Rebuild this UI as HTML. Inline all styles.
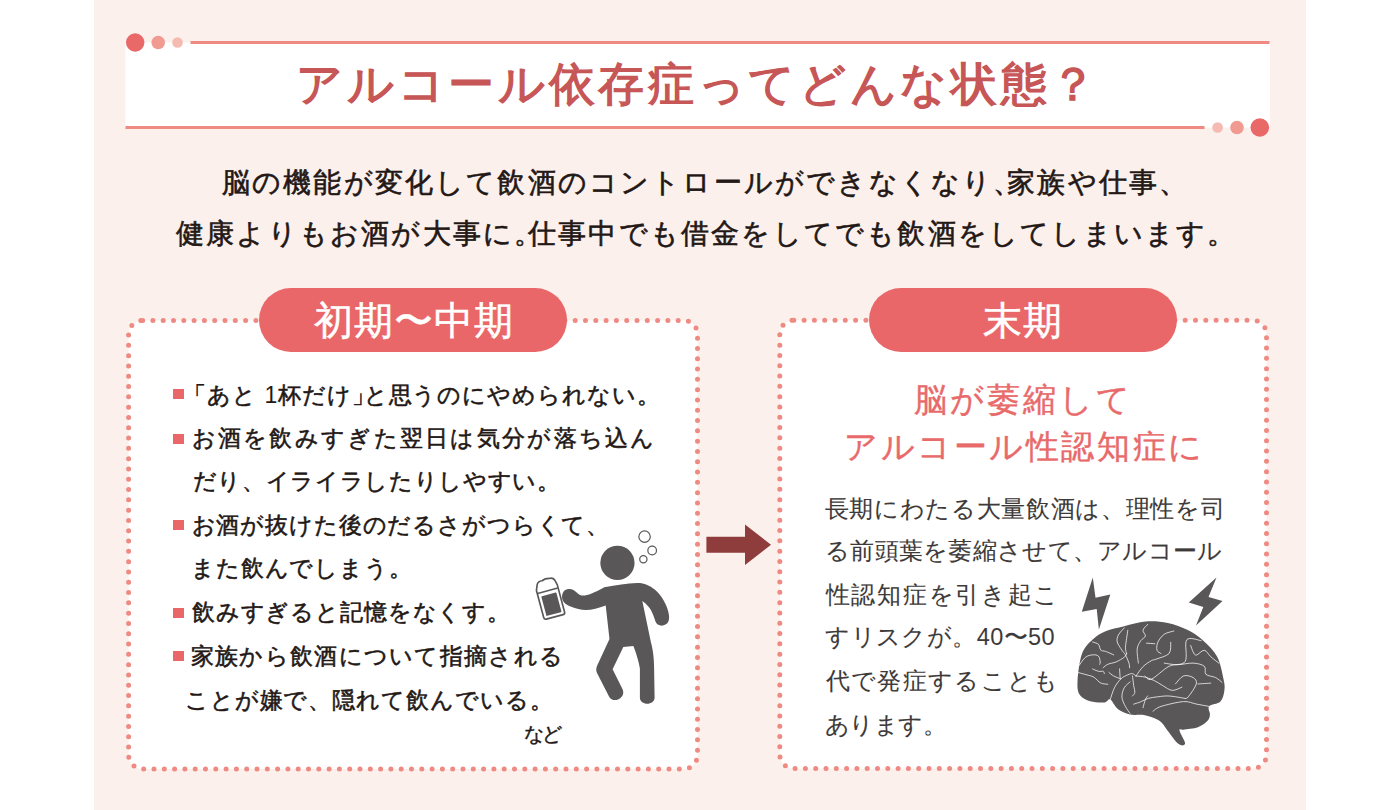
<!DOCTYPE html>
<html lang="ja">
<head>
<meta charset="utf-8">
<style>
html,body{margin:0;padding:0;}
body{width:1400px;height:810px;position:relative;overflow:hidden;background:#ffffff;font-family:"Liberation Sans",sans-serif;color:#231815;}
.abs{position:absolute;}
#panel{left:94px;top:0;width:1212px;height:810px;background:#fcf0ed;}
.t{position:absolute;white-space:nowrap;line-height:1;}
.t span{position:absolute;top:0;}
.t span.d{-webkit-text-stroke-width:0;}
.tt{color:#c75656;-webkit-text-stroke:1.4px #c75656;}
.sub{-webkit-text-stroke:0.6px #231815;}
.pill{position:absolute;height:64px;width:308px;border-radius:32px;background:#e96768;top:288px;}
.pt{color:#fff;-webkit-text-stroke:0.5px #fff;}
.li{-webkit-text-stroke:0.55px #231815;}
.nd{-webkit-text-stroke:0.4px #231815;}
.bul{position:absolute;width:11px;height:10px;background:#e96768;}
.rh{color:#e86a6a;-webkit-text-stroke:0.4px #e86a6a;}
.rt{color:#3e3a39;-webkit-text-stroke:0.1px #3e3a39;}
.h{letter-spacing:-0.5em;}
.hl{margin-left:-0.5em;}
</style>
</head>
<body>
<div id="panel" class="abs"></div>

<svg class="abs" style="left:0;top:0" width="1400" height="810" viewBox="0 0 1400 810">
  <rect x="125.5" y="42.5" width="1144.5" height="85" fill="#ffffff"/>
  <rect x="190.5" y="41" width="1079" height="3" fill="#ef8a82"/>
  <rect x="125.5" y="126" width="1079" height="3" fill="#ef8a82"/>
  <circle cx="135.2" cy="42.5" r="9.2" fill="#e96868"/>
  <circle cx="158.2" cy="42.5" r="6.8" fill="#f19a92"/>
  <circle cx="177.5" cy="42.5" r="5.3" fill="#f5bab2"/>
  <circle cx="1217.6" cy="127.5" r="5.3" fill="#f5bab2"/>
  <circle cx="1237" cy="127.5" r="6.8" fill="#f19a92"/>
  <circle cx="1259.8" cy="127.5" r="9.3" fill="#e96868"/>

  <rect x="128.6" y="320.4" width="568.9" height="448.6" rx="14" fill="#ffffff" stroke="#ef8a82" stroke-width="5.0" stroke-dasharray="0 10.3" stroke-linecap="round"/>
  <rect x="779.8" y="320.2" width="486.7" height="448.4" rx="14" fill="#ffffff" stroke="#ef8a82" stroke-width="5.0" stroke-dasharray="0 10.3" stroke-linecap="round"/>

  <path d="M706.4 536.7 H745 V524.4 L771 544.7 L745 565 V552.8 H706.4 Z" fill="#8e3c3c"/>

  <!-- drunk figure (coords in 5.787x zoom space of region 530,570) -->
  <g transform="translate(530 570) scale(0.17280)" fill="#595757">
    <circle cx="506" cy="-41" r="99"/>
    <path d="M430 100 C500 85 560 78 620 75 C690 72 760 130 790 210 C805 250 810 280 800 300 C785 330 735 330 725 295 C712 255 700 215 650 180 L700 420 C712 460 718 520 718 560 L721 738 C721 786 636 786 636 738 L636 570 C628 520 610 470 598 440 L540 445 L478 575 L535 688 C560 738 483 778 458 733 L390 600 C378 578 385 560 395 540 L460 400 L438 205 C380 225 330 240 280 225 C250 218 225 210 205 195 C175 175 180 120 215 112 C240 106 260 120 275 135 C300 160 340 150 430 100 Z"/>
    <circle cx="663" cy="-193" r="33" fill="none" stroke="#595757" stroke-width="7"/>
    <circle cx="707" cy="-113" r="25" fill="none" stroke="#595757" stroke-width="7"/>
    <circle cx="656" cy="-62" r="21" fill="none" stroke="#595757" stroke-width="7"/>
    <g transform="rotate(-15 115 165)">
      <path d="M52 262 L52 100 L66 66 C72 56 84 52 98 54 C112 48 128 48 142 52 C156 52 166 58 170 70 L177 100 L177 262 C177 270 172 275 165 275 L64 275 C57 275 52 270 52 262 Z" fill="#fff" stroke="#595757" stroke-width="9.5" stroke-linejoin="round"/>
      <line x1="54" y1="118" x2="175" y2="118" stroke="#595757" stroke-width="9"/>
      <rect x="70" y="140" width="90" height="118" rx="4" fill="#595757"/>
    </g>
  </g>

  <!-- lightning bolts -->
  <path d="M1092.8 577.4 L1081.8 611.7 L1096.7 608.9 L1098.9 629.4 L1110.3 594.5 L1095.5 597.7 Z" fill="#595757"/>
  <path d="M1216.5 577.6 L1188.8 602.5 L1203.3 606.9 L1196 625.4 L1222.5 600.9 L1208.5 596.9 Z" fill="#595757"/>

  <!-- brain (coords in 4.5x zoom space of region 1070,570) -->
  <g transform="translate(1070 570) scale(0.22222)">
    <path fill="#595757" d="M34.0 498.0 C35.7 467.2 42.7 407.8 54.0 377.0 C65.3 346.2 84.3 329.8 102.0 313.0 C119.7 296.2 136.3 286.0 160.0 276.0 C183.7 266.0 214.0 260.3 244.0 253.0 C274.0 245.7 307.3 234.5 340.0 232.0 C372.7 229.5 408.3 231.7 440.0 238.0 C471.7 244.3 503.3 256.7 530.0 270.0 C556.7 283.3 578.0 298.0 600.0 318.0 C622.0 338.0 647.1 361.2 662.3 390.1 C677.5 419.0 685.6 465.9 691.0 491.2 C696.4 516.5 697.1 524.9 694.7 541.7 C692.3 558.5 688.1 580.2 676.7 592.2 C665.3 604.2 634.0 604.3 626.2 613.9 C618.4 623.5 631.0 639.2 629.8 650.0 C628.6 660.8 628.0 669.2 619.0 678.8 C610.0 688.4 593.8 701.1 575.7 707.7 C557.7 714.3 524.5 716.1 510.7 718.5 C496.9 720.9 491.5 711.9 492.7 722.1 C493.9 732.3 518.6 769.7 518.0 779.9 C517.4 790.1 502.2 793.1 489.0 783.5 C475.8 773.9 452.9 739.6 438.5 722.1 C424.1 704.6 419.3 690.2 402.5 678.8 C385.7 667.4 359.6 658.4 337.5 653.6 C315.4 648.8 290.4 654.8 270.0 650.0 C249.6 645.2 229.8 636.2 215.0 625.0 C200.2 613.8 191.1 587.8 181.0 583.0 C170.9 578.2 169.5 594.8 154.5 596.0 C139.5 597.2 109.5 596.2 91.0 590.5 C72.5 584.8 53.1 576.9 43.6 561.5 C34.1 546.1 32.3 528.8 34.0 498.0 Z"/>
    <g fill="none" stroke="#ffffff" stroke-width="3.4" stroke-linecap="round" stroke-linejoin="round">
      <path d="M41.0 429.5 C45.8 423.3 59.9 400.4 70.0 392.5 C80.1 384.6 92.0 382.9 101.7 382.0 C111.4 381.1 122.3 382.0 128.0 387.3 C133.7 392.6 135.1 407.6 136.0 413.7 C136.9 419.8 133.8 422.4 133.4 424.2"/>
      <path d="M101.7 324.0 C106.1 325.8 121.8 328.4 128.0 334.5 C134.2 340.6 133.3 355.6 138.6 360.9 C143.9 366.2 150.1 362.6 159.8 366.1 C169.5 369.6 190.5 379.4 196.7 382.0"/>
      <path d="M35.7 461.2 C42.3 462.9 63.4 468.2 75.3 471.7 C87.2 475.2 96.5 476.1 107.0 482.3 C117.5 488.5 128.0 503.4 138.6 508.7 C149.2 514.0 165.0 513.1 170.3 514.0"/>
      <path d="M101.7 445.3 C106.1 447.1 120.1 454.1 128.0 455.9 C135.9 457.7 144.8 454.1 149.2 455.9 C153.6 457.7 153.6 464.7 154.5 466.5"/>
      <path d="M149.2 440.0 C152.7 437.4 160.6 428.6 170.3 424.2 C180.0 419.8 195.0 419.0 207.3 413.7 C219.6 408.4 236.3 398.7 244.2 392.5 C252.1 386.3 253.0 379.3 254.8 376.7"/>
      <path d="M244.2 260.6 C239.8 265.9 223.1 281.6 217.8 292.2 C212.5 302.8 209.8 312.6 212.5 324.0 C215.2 335.4 227.5 351.2 233.7 360.9 C239.9 370.6 244.2 372.3 249.5 382.0 C254.8 391.7 262.2 409.3 265.3 419.0 C268.4 428.7 267.6 436.5 268.0 440.0"/>
      <path d="M260.0 271.0 C259.1 277.2 256.6 294.8 254.8 308.0 C253.1 321.2 249.5 338.9 249.5 350.3 C249.5 361.8 253.9 372.3 254.8 376.7"/>
      <path d="M223.0 445.3 C223.4 452.4 225.2 480.6 225.7 487.6"/>
      <path d="M181.0 583.0 C184.2 574.2 192.1 545.5 200.0 530.0 C207.9 514.5 218.4 499.9 228.4 490.2 C238.4 480.5 251.2 475.6 260.0 471.7 C268.8 467.8 275.0 465.6 281.2 466.5 C287.4 467.4 294.4 475.2 297.0 477.0"/>
      <path d="M175.6 461.2 C179.1 463.8 187.9 472.2 196.7 477.0 C205.5 481.8 223.1 488.0 228.4 490.2"/>
      <path d="M349.8 244.7 C346.3 249.1 330.5 262.3 328.7 271.1 C326.9 279.9 341.0 289.6 339.2 297.5 C337.4 305.4 324.2 308.9 318.1 318.6 C312.0 328.3 304.1 338.9 302.3 355.6 C300.6 372.3 306.7 408.4 307.6 419.0"/>
      <path d="M344.5 329.2 C350.7 329.6 375.3 331.4 381.5 331.8"/>
      <path d="M297.0 477.0 C302.3 470.0 317.3 446.2 328.7 434.8 C340.1 423.4 355.7 414.0 365.6 408.4 C375.5 402.8 374.6 406.4 388.0 401.0 C401.4 395.6 435.0 388.3 445.8 375.7 C456.6 363.1 451.8 333.6 453.0 325.2"/>
      <path d="M270.6 503.4 C266.2 507.8 250.3 518.4 244.2 529.8 C238.0 541.2 232.8 557.9 233.7 572.0 C234.6 586.1 243.4 602.1 249.5 614.3 C255.6 626.5 266.6 639.9 270.0 645.0"/>
      <path d="M281.2 477.0 C282.1 484.0 284.8 506.9 286.5 519.2 C288.2 531.5 292.6 543.1 291.7 551.0 C290.8 558.9 282.9 564.2 281.2 566.8"/>
      <path d="M297.0 477.0 C304.0 477.9 325.2 478.7 339.2 482.3 C353.2 485.9 367.9 492.1 380.8 498.4 C393.8 504.7 403.7 512.8 416.9 520.0 C430.1 527.2 445.8 540.5 460.2 541.7 C474.6 542.9 496.3 529.7 503.5 527.3"/>
      <path d="M286.5 603.7 C291.8 602.0 307.2 597.5 318.1 593.2 C329.0 588.9 339.0 581.6 351.9 577.8 C364.8 574.0 379.5 572.4 395.2 570.6 C410.9 568.8 425.3 565.8 445.8 567.0 C466.3 568.2 506.0 576.0 518.0 577.8"/>
      <path d="M328.7 619.6 C330.4 613.4 335.7 591.4 339.2 582.6 C342.7 573.8 348.0 569.4 349.8 566.8"/>
      <path d="M467.4 274.7 C460.2 277.1 436.1 280.7 424.1 289.1 C412.1 297.5 400.6 313.2 395.2 325.2 C389.8 337.2 389.2 352.9 391.6 361.3 C394.0 369.7 406.7 373.3 409.7 375.7"/>
      <path d="M590.0 318.0 C579.2 317.4 537.1 298.7 525.1 314.4 C513.1 330.1 531.2 392.2 518.0 412.0 C504.8 431.8 471.1 420.2 445.8 433.4 C420.5 446.6 384.4 484.0 366.4 491.2 C348.3 498.4 342.3 479.1 337.5 476.7"/>
      <path d="M543.2 339.6 C545.0 344.4 549.8 361.3 554.0 368.5 C558.2 375.7 560.1 384.2 568.5 383.0 C576.9 381.8 593.7 360.1 604.5 361.3 C615.3 362.5 622.6 380.5 633.4 390.1 C644.2 399.7 663.5 414.2 669.5 419.0"/>
      <path d="M424.1 419.0 C433.7 420.2 460.2 426.2 481.8 426.2 C503.4 426.2 533.5 417.8 554.0 419.0 C574.5 420.2 594.9 425.0 604.5 433.4 C614.1 441.8 603.3 461.1 611.7 469.5 C620.1 477.9 643.0 477.9 655.0 483.9 C667.0 489.9 679.1 501.9 683.9 505.5"/>
      <path d="M474.6 512.8 C480.6 506.8 497.5 481.5 510.7 476.7 C523.9 471.9 544.4 478.0 554.0 484.0 C563.6 490.0 572.1 498.4 568.5 512.8 C564.9 527.2 540.8 559.8 532.4 570.6 C524.0 581.4 520.4 576.6 518.0 577.8"/>
      <path d="M575.7 512.8 C585.3 512.2 623.8 509.8 633.4 509.2"/>
      <path d="M373.6 635.5 C379.6 631.9 386.9 621.1 409.7 613.9 C432.5 606.7 484.2 594.0 510.7 592.2 C537.2 590.4 549.2 599.7 568.5 603.3 C587.8 606.9 616.6 612.1 626.2 613.9"/>
    </g>
  </g>
</svg>

<div class="pill" style="left:259px"></div>
<div class="pill" style="left:869px"></div>

<div class="bul" style="left:173px;top:389px"></div>
<div class="bul" style="left:173px;top:434px"></div>
<div class="bul" style="left:173px;top:520px"></div>
<div class="bul" style="left:173px;top:607.5px"></div>
<div class="bul" style="left:173px;top:651px"></div>

<div id="title" class="t tt" style="left:296.2px;top:61.0px;font-size:46px;letter-spacing:0"><span style="left:0.00px">ア</span><span style="left:50.66px">ル</span><span style="left:101.33px">コ</span><span style="left:152.00px">ー</span><span style="left:201.67px">ル</span><span style="left:252.34px">依</span><span style="left:302.02px">存</span><span style="left:351.69px">症</span><span style="left:401.36px">っ</span><span style="left:452.02px">て</span><span style="left:502.69px">ど</span><span style="left:553.36px">ん</span><span style="left:604.03px">な</span><span style="left:654.70px">状</span><span style="left:704.38px">態</span><span style="left:754.05px">？</span></div>
<div id="s1" class="t sub" style="left:221.8px;top:168.8px;font-size:28px;letter-spacing:0"><span style="left:0.00px">脳</span><span style="left:30.17px">の</span><span style="left:61.36px">機</span><span style="left:91.53px">能</span><span style="left:121.72px">が</span><span style="left:152.89px">変</span><span style="left:183.08px">化</span><span style="left:213.25px">し</span><span style="left:244.44px">て</span><span style="left:275.61px">飲</span><span style="left:305.80px">酒</span><span style="left:335.97px">の</span><span style="left:367.16px">コ</span><span style="left:398.33px">ン</span><span style="left:429.52px">ト</span><span style="left:460.69px">ロ</span><span style="left:491.88px">ー</span><span style="left:522.05px">ル</span><span style="left:553.23px">が</span><span style="left:584.41px">で</span><span style="left:615.59px">き</span><span style="left:646.77px">な</span><span style="left:677.95px">く</span><span style="left:709.12px">な</span><span style="left:740.31px">り</span><span style="left:771.50px">、</span><span style="left:785.50px">家</span><span style="left:815.67px">族</span><span style="left:845.86px">や</span><span style="left:877.03px">仕</span><span style="left:907.22px">事</span><span style="left:937.39px">、</span></div>
<div id="s2" class="t sub" style="left:176.0px;top:220.0px;font-size:28px;letter-spacing:0"><span style="left:0.00px">健</span><span style="left:30.19px">康</span><span style="left:60.38px">よ</span><span style="left:91.56px">り</span><span style="left:122.75px">も</span><span style="left:153.94px">お</span><span style="left:185.12px">酒</span><span style="left:215.33px">が</span><span style="left:246.52px">大</span><span style="left:276.70px">事</span><span style="left:306.89px">に</span><span style="left:338.09px">。</span><span style="left:352.09px">仕</span><span style="left:382.28px">事</span><span style="left:412.47px">中</span><span style="left:442.66px">で</span><span style="left:473.84px">も</span><span style="left:505.03px">借</span><span style="left:535.22px">金</span><span style="left:565.42px">を</span><span style="left:596.61px">し</span><span style="left:627.80px">て</span><span style="left:658.98px">で</span><span style="left:690.17px">も</span><span style="left:721.36px">飲</span><span style="left:751.56px">酒</span><span style="left:781.75px">を</span><span style="left:812.94px">し</span><span style="left:844.12px">て</span><span style="left:875.31px">し</span><span style="left:906.50px">ま</span><span style="left:937.70px">い</span><span style="left:968.89px">ま</span><span style="left:1000.08px">す</span><span style="left:1031.27px">。</span></div>
<div id="p1" class="t pt" style="left:314.0px;top:301.4px;font-size:39px;letter-spacing:0"><span style="left:0.00px">初</span><span style="left:39.94px">期</span><span style="left:79.89px">〜</span><span style="left:119.84px">中</span><span style="left:159.80px">期</span></div>
<div id="p2" class="t pt" style="left:982.6px;top:301.4px;font-size:39px;letter-spacing:0"><span style="left:0.00px">末</span><span style="left:40.80px">期</span></div>
<div id="L1" class="t li" style="left:194.8px;top:383.8px;font-size:23px;letter-spacing:0"><span style="left:-11.50px">「</span><span style="left:12.45px">あ</span><span style="left:37.39px">と</span><span class="d" style="left:69.69px">1</span><span style="left:83.42px">杯</span><span style="left:107.38px">だ</span><span style="left:132.33px">け</span><span style="left:157.30px">」</span><span style="left:168.80px">と</span><span style="left:193.73px">思</span><span style="left:217.69px">う</span><span style="left:242.64px">の</span><span style="left:267.59px">に</span><span style="left:292.53px">や</span><span style="left:317.48px">め</span><span style="left:342.44px">ら</span><span style="left:367.39px">れ</span><span style="left:392.34px">な</span><span style="left:417.28px">い</span><span style="left:442.23px">。</span></div>
<div id="L2" class="t li" style="left:191.6px;top:427.2px;font-size:23px;letter-spacing:0"><span style="left:0.00px">お</span><span style="left:26.27px">酒</span><span style="left:51.55px">を</span><span style="left:77.83px">飲</span><span style="left:103.11px">み</span><span style="left:129.39px">す</span><span style="left:155.67px">ぎ</span><span style="left:181.95px">た</span><span style="left:208.23px">翌</span><span style="left:233.52px">日</span><span style="left:258.80px">は</span><span style="left:285.08px">気</span><span style="left:310.36px">分</span><span style="left:335.62px">が</span><span style="left:361.91px">落</span><span style="left:387.19px">ち</span><span style="left:413.47px">込</span><span style="left:438.75px">ん</span></div>
<div id="L3" class="t li" style="left:192.6px;top:469.8px;font-size:23px;letter-spacing:0"><span style="left:0.00px">だ</span><span style="left:24.66px">り</span><span style="left:49.31px">、</span><span style="left:72.97px">イ</span><span style="left:97.62px">ラ</span><span style="left:122.30px">イ</span><span style="left:146.95px">ラ</span><span style="left:171.61px">し</span><span style="left:196.27px">た</span><span style="left:220.94px">り</span><span style="left:245.59px">し</span><span style="left:270.25px">や</span><span style="left:294.91px">す</span><span style="left:319.58px">い</span><span style="left:344.23px">。</span></div>
<div id="L4" class="t li" style="left:191.6px;top:513.6px;font-size:23px;letter-spacing:0"><span style="left:0.00px">お</span><span style="left:24.86px">酒</span><span style="left:48.72px">が</span><span style="left:73.58px">抜</span><span style="left:97.44px">け</span><span style="left:122.30px">た</span><span style="left:147.16px">後</span><span style="left:171.02px">の</span><span style="left:195.88px">だ</span><span style="left:220.73px">る</span><span style="left:245.59px">さ</span><span style="left:270.45px">が</span><span style="left:295.31px">つ</span><span style="left:320.17px">ら</span><span style="left:345.03px">く</span><span style="left:369.89px">て</span><span style="left:394.75px">、</span></div>
<div id="L5" class="t li" style="left:191.2px;top:557.2px;font-size:23px;letter-spacing:0"><span style="left:0.00px">ま</span><span style="left:24.81px">た</span><span style="left:49.62px">飲</span><span style="left:73.45px">ん</span><span style="left:98.27px">で</span><span style="left:123.09px">し</span><span style="left:147.91px">ま</span><span style="left:172.73px">う</span><span style="left:197.55px">。</span></div>
<div id="L6" class="t li" style="left:191.8px;top:601.2px;font-size:23px;letter-spacing:0"><span style="left:0.00px">飲</span><span style="left:23.86px">み</span><span style="left:48.73px">す</span><span style="left:73.61px">ぎ</span><span style="left:98.47px">る</span><span style="left:123.34px">と</span><span style="left:148.22px">記</span><span style="left:172.08px">憶</span><span style="left:195.95px">を</span><span style="left:220.83px">な</span><span style="left:245.69px">く</span><span style="left:270.56px">す</span><span style="left:295.44px">。</span></div>
<div id="L7" class="t li" style="left:190.8px;top:644.8px;font-size:23px;letter-spacing:0"><span style="left:0.00px">家</span><span style="left:24.28px">族</span><span style="left:48.58px">か</span><span style="left:73.86px">ら</span><span style="left:99.16px">飲</span><span style="left:123.44px">酒</span><span style="left:147.73px">に</span><span style="left:173.02px">つ</span><span style="left:198.31px">い</span><span style="left:223.61px">て</span><span style="left:248.89px">指</span><span style="left:273.19px">摘</span><span style="left:297.47px">さ</span><span style="left:322.77px">れ</span><span style="left:348.05px">る</span></div>
<div id="L8" class="t li" style="left:184.8px;top:689.0px;font-size:23px;letter-spacing:0"><span style="left:0.00px">こ</span><span style="left:24.91px">と</span><span style="left:49.81px">が</span><span style="left:74.72px">嫌</span><span style="left:98.62px">で</span><span style="left:123.55px">、</span><span style="left:147.45px">隠</span><span style="left:171.36px">れ</span><span style="left:196.27px">て</span><span style="left:221.19px">飲</span><span style="left:245.09px">ん</span><span style="left:270.00px">で</span><span style="left:294.91px">い</span><span style="left:319.83px">る</span><span style="left:344.73px">。</span></div>
<div id="nado" class="t li nd" style="left:524.2px;top:724.8px;font-size:19.5px;letter-spacing:0"><span style="left:0.00px">な</span><span style="left:18.19px">ど</span></div>
<div id="RH1" class="t rh" style="left:913.8px;top:384.0px;font-size:32.5px;letter-spacing:0"><span style="left:0.00px">脳</span><span style="left:36.08px">が</span><span style="left:73.16px">萎</span><span style="left:109.23px">縮</span><span style="left:145.31px">し</span><span style="left:182.39px">て</span></div>
<div id="RH2" class="t rh" style="left:844.0px;top:430.6px;font-size:32.5px;letter-spacing:0"><span style="left:0.00px">ア</span><span style="left:36.58px">ル</span><span style="left:73.16px">コ</span><span style="left:109.73px">ー</span><span style="left:145.31px">ル</span><span style="left:181.89px">性</span><span style="left:217.47px">認</span><span style="left:253.05px">知</span><span style="left:288.62px">症</span><span style="left:324.22px">に</span></div>
<div id="R1" class="t rt" style="left:824.8px;top:497.6px;font-size:23.5px;letter-spacing:0"><span style="left:0.00px">長</span><span style="left:24.64px">期</span><span style="left:49.30px">に</span><span style="left:74.94px">わ</span><span style="left:100.59px">た</span><span style="left:126.23px">る</span><span style="left:151.89px">大</span><span style="left:176.55px">量</span><span style="left:201.19px">飲</span><span style="left:225.84px">酒</span><span style="left:250.48px">は</span><span style="left:276.14px">、</span><span style="left:300.80px">理</span><span style="left:325.44px">性</span><span style="left:350.09px">を</span><span style="left:375.73px">司</span></div>
<div id="R2" class="t rt" style="left:825.0px;top:540.4px;font-size:23.5px;letter-spacing:0"><span style="left:0.00px">る</span><span style="left:25.28px">前</span><span style="left:49.58px">頭</span><span style="left:73.86px">葉</span><span style="left:98.16px">を</span><span style="left:123.44px">萎</span><span style="left:147.73px">縮</span><span style="left:172.02px">さ</span><span style="left:197.31px">せ</span><span style="left:222.61px">て</span><span style="left:247.89px">、</span><span style="left:272.19px">ア</span><span style="left:297.47px">ル</span><span style="left:322.77px">コ</span><span style="left:348.05px">ー</span><span style="left:372.34px">ル</span></div>
<div id="R3" class="t rt" style="left:825.6px;top:584.0px;font-size:23.5px;letter-spacing:0"><span style="left:0.00px">性</span><span style="left:25.72px">認</span><span style="left:51.45px">知</span><span style="left:77.19px">症</span><span style="left:102.91px">を</span><span style="left:129.64px">引</span><span style="left:155.38px">き</span><span style="left:182.11px">起</span><span style="left:207.83px">こ</span></div>
<div id="R4" class="t rt" style="left:825.2px;top:626.4px;font-size:23.5px;letter-spacing:0"><span style="left:0.00px">す</span><span style="left:25.41px">リ</span><span style="left:50.83px">ス</span><span style="left:76.25px">ク</span><span style="left:101.67px">が</span><span style="left:127.09px">。</span><span class="d" style="left:151.52px">4</span><span class="d" style="left:165.00px">0</span><span style="left:178.48px">〜</span><span class="d" style="left:202.91px">5</span><span class="d" style="left:216.41px">0</span></div>
<div id="R5" class="t rt" style="left:825.6px;top:670.4px;font-size:23.5px;letter-spacing:0"><span style="left:0.00px">代</span><span style="left:25.34px">で</span><span style="left:51.69px">発</span><span style="left:77.05px">症</span><span style="left:102.39px">す</span><span style="left:128.73px">る</span><span style="left:155.09px">こ</span><span style="left:181.44px">と</span><span style="left:207.80px">も</span></div>
<div id="R6" class="t rt" style="left:824.6px;top:713.8px;font-size:23.5px;letter-spacing:0"><span style="left:0.00px">あ</span><span style="left:24.59px">り</span><span style="left:49.19px">ま</span><span style="left:73.80px">す</span><span style="left:98.39px">。</span></div>

</body>
</html>
